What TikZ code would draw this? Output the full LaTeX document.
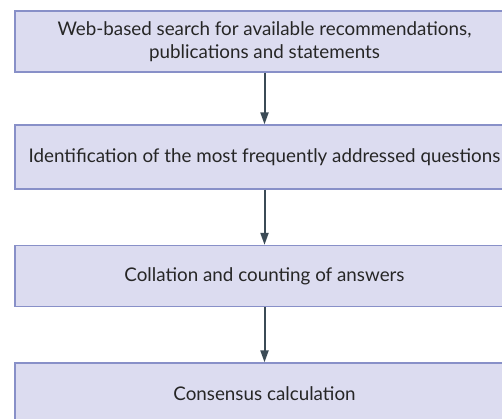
\documentclass[tikz,border=0pt]{standalone}
\usepackage{fontspec}
\setmainfont{Lato}
\usetikzlibrary{arrows.meta}
\definecolor{boxfill}{HTML}{DCDCF0}
\definecolor{boxline}{HTML}{8890C8}
\definecolor{arrowcol}{HTML}{3B4B56}
\begin{document}
\begin{tikzpicture}[x=1pt,y=1pt,
  stepbox/.style={draw=boxline,fill=boxfill,line width=1.3pt,minimum width=499pt,
    minimum height=61pt,inner sep=0pt,align=center,font=\fontsize{18.8}{22.5}\selectfont,text=black!85},
  flow/.style={draw=arrowcol,line width=2pt,-{Triangle[length=12pt,width=8pt]}}]
\useasboundingbox (0,0) rectangle (502,-419);
\clip (0,0) rectangle (502,-419);
\fill[white] (0,0) rectangle (502,-419);
\node[stepbox] (s1) at (264.5,-41.5) {Web-based search for available recommendations,\\publications and statements};
\node[stepbox,minimum height=64pt] (s2) at (264.5,-157) {Identification of the most frequently addressed questions};
\node[stepbox] (s3) at (264.5,-276) {Collation and counting of answers};
\node[stepbox] (s4) at (264.5,-393.5) {Consensus calculation};
\draw[flow] (s1.south) -- (s2.north);
\draw[flow] (s2.south) -- (s3.north);
\draw[flow] (s3.south) -- (s4.north);
\end{tikzpicture}
\end{document}
